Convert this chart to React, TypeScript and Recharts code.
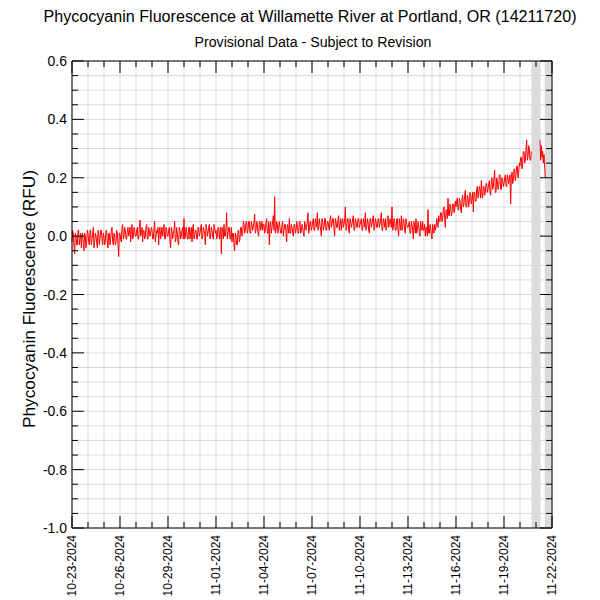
import React from 'react';
import { ComposedChart, Line, Area, XAxis, YAxis, CartesianGrid, ReferenceLine } from 'recharts';

// Phycocyanin fluorescence (RFU), 24 readings per day (hourly)
const d1023 = [-.02, .02, .01, -.04, -.06, .01, 0, -.03, -.03, .02, .02, -.03, -.01, .01, -.04, 0, .01, -.03, -.05, .01, 0, -.04, -.02, .02];
const d1024 = [.01, -.02, -.03, .02, .02, -.03, -.01, .01, .03, -.04, -.02, .01, 0, -.02, -.04, .02, .01, -.03, -.01, .02, .02, -.01, -.03, .01];
const d1025 = [0, -.03, -.02, .02, .02, -.02, -.04, .01, .01, -.03, -.01, .02, .03, -.02, -.03, .01, 0, -.03, -.02, .02, .01, -.03, -.07, .01];
const d1026 = [.01, -.01, -.02, .03, .04, -.01, 0, .03, .02, -.01, -.01, .02, .03, 0, .01, .03, -.02, .02, .04, -.01, 0, .03, .02, 0];
const d1027 = [0, .02, .03, -.01, -.01, .03, .055, 0, .01, .03, -.02, .02, .02, -.01, 0, .03, .04, -.01, -.01, .03, .02, 0, .01, .03];
const d1028 = [.02, -.01, -.01, .03, .05, -.02, 0, .02, .01, .03, -.03, .02, .03, -.01, .01, .03, 0, .02, .04, -.01, -.01, .03, .02, 0];
const d1029 = [0, .02, .03, -.02, -.04, .03, .02, -.01, .01, .02, .05, -.02, -.01, .03, .01, -.02, -.03, .03, .02, -.01, 0, .02, .03, -.01];
const d1030 = [.06, -.01, 0, .03, .02, -.01, -.01, .03, .03, -.01, .01, .03, -.02, .03, .04, -.01, 0, .02, .02, -.01, -.01, .03, .03, 0];
const d1031 = [.01, .03, .04, -.01, 0, .03, .02, .01, -.03, .04, .03, 0, .01, .03, .04, -.01, 0, .03, .02, 0, -.01, .04, .03, .01];
const d1101 = [.02, -.01, 0, .03, .03, -.01, .01, .03, -.06, .03, .02, -.01, .04, 0, 0, .03, .08, -.01, .01, .03, .03, -.01, -.01, .03];
const d1102 = [-.02, .01, .01, -.03, -.05, .01, 0, -.03, -.03, .02, .02, -.02, -.01, .03, .03, 0, .01, .05, .04, .01, .02, .05, .05, .01];
const d1103 = [.02, .05, .05, .01, .01, .05, .04, .02, .03, .05, .075, .01, .02, .05, .04, .01, 0, .05, .05, .02, .03, .05, .02, .04];
const d1104 = [.04, .01, .02, .05, .06, .01, .01, .05, -.03, .04, .05, .01, .03, .05, .07, .02, .135, .01, .02, .05, .04, .01, .03, .05];
const d1105 = [.03, .01, .01, .04, .05, 0, .02, .04, .04, .01, -.02, .04, .03, .01, .06, .01, .01, .04, .03, .01, 0, .04, .04, .01];
const d1106 = [.02, .05, .04, .01, .01, .05, .05, .01, .02, .04, .03, .01, 0, .05, .04, .02, .03, .05, .08, .01, .02, .05, .05, .02];
const d1107 = [.03, .05, .06, .02, .02, .06, .05, .03, .08, .02, .03, .06, .04, .02, 0, .06, .05, .02, .03, .06, .06, .02, .02, .05];
const d1108 = [.05, .03, .02, .06, .07, .03, .04, .06, .06, .02, 0, .06, .05, .03, .03, .06, .07, .02, .04, .06, .02, .05, .06, .03];
const d1109 = [.04, .06, .10, .02, .03, .06, .06, .02, .01, .06, .05, .03, .04, .06, .07, .02, .02, .06, .05, .03, .03, .06, .06, .03];
const d1110 = [.04, .05, .06, .02, .02, .06, .05, .03, .08, .02, .03, .06, .05, .02, .01, .06, .06, .03, .04, .06, .07, .02, .03, .06];
const d1111 = [.05, .03, .03, .06, .06, .03, .04, .06, .08, .02, .02, .06, .05, .03, .06, .02, .03, .06, .07, .03, .04, .06, .05, .03];
const d1112 = [.10, .02, .03, .06, .05, .02, .02, .06, .06, .02, 0, .06, .04, .02, .07, .02, .03, .06, .05, .02, .01, .06, .04, .03];
const d1113 = [.03, .04, .05, .01, .01, .05, .04, .02, -.01, .05, .03, .01, .06, .01, .02, .05, .04, .01, 0, .05, .03, .02, .05, .02];
const d1114 = [.02, .04, 0, .03, .03, 0, .09, .01, .01, .04, .03, 0, -.01, .04, .02, .01, .04, .02, .03, .06, .05, .03, .07, .05];
const d1115 = [.05, .08, .08, .05, .06, .09, .10, .06, .03, .09, .09, .06, .13, .07, .07, .11, .10, .07, .08, .11, .11, .08, .09, .12];
const d1116 = [.10, .12, .13, .09, .09, .13, .12, .09, .08, .13, .14, .10, .11, .14, .157, .10, .10, .14, .13, .10, .12, .15, .14, .11];
const d1117 = [.13, .15, .083, .15, .15, .12, .12, .16, .17, .13, .14, .17, .16, .13, .19, .14, .13, .17, .17, .14, .15, .18, .18, .15];
const d1118 = [.16, .18, .19, .15, .14, .19, .20, .16, .17, .20, .226, .15, .15, .20, .19, .16, .17, .21, .21, .16, .16, .20, .19, .17];
const d1119 = [.18, .20, .21, .17, .17, .21, .20, .18, .19, .21, .11, .20, .22, .18, .19, .23, .23, .19, .21, .24, .24, .20, .22, .25];
const d1120 = [.24, .27, .27, .23, .25, .29, .29, .25, .26, .30, .33, .26, .27, .31, .30, .26, .26, .29, null, null, null, null, null, null];
const d1121 = [null, null, null, null, null, null, .33, .26, .31, .27, .29, .25, .28, .24, .20, null, null, null, null, null, null, null, null, null, null];

const dailyValues: (number | null)[][] = [
  d1023, d1024, d1025, d1026, d1027, d1028, d1029, d1030, d1031, d1101,
  d1102, d1103, d1104, d1105, d1106, d1107, d1108, d1109, d1110, d1111,
  d1112, d1113, d1114, d1115, d1116, d1117, d1118, d1119, d1120, d1121,
];
const READINGS_PER_DAY = 24;

const dateTickLabels = [
  '10-23-2024', '10-26-2024', '10-29-2024', '11-01-2024', '11-04-2024', '11-07-2024',
  '11-10-2024', '11-13-2024', '11-16-2024', '11-19-2024', '11-22-2024',
];
const xMajorTicks = [0, 3, 6, 9, 12, 15, 18, 21, 24, 27, 30];
const xMinorTicks = [0, 1, 2, 3, 4, 5, 6, 7, 8, 9, 10, 11, 12, 13, 14, 15, 16, 17, 18, 19, 20, 21, 22, 23, 24, 25, 26, 27, 28, 29, 30];
// periods without data (shaded), in days since 10-23
const gapStart = [28.75, 29.58];
const gapEnd = [29.25, 30];
// grid-only vertical lines / band edges (no tick marks)
const xGridOnly = [22.5, ...gapStart, ...gapEnd.filter((v) => v < 30)];
const xBottomTicks = [...xMinorTicks, ...xGridOnly].sort((a, b) => a - b);
const yMajorTicks = [-1, -0.8, -0.6, -0.4, -0.2, 0, 0.2, 0.4, 0.6];
const yTickLabels = ['-1.0', '-0.8', '-0.6', '-0.4', '-0.2', '0.0', '0.2', '0.4', '0.6'];
const yMinorTicks = [
  -1, -0.95, -0.9, -0.85, -0.8, -0.75, -0.7, -0.65, -0.6, -0.55, -0.5, -0.45, -0.4, -0.35, -0.3, -0.25, -0.2,
  -0.15, -0.1, -0.05, 0, 0.05, 0.1, 0.15, 0.2, 0.25, 0.3, 0.35, 0.4, 0.45, 0.5, 0.55, 0.6,
];
const X_MIN = 0;
const X_MAX = 30;
const Y_MIN = -1;
const Y_MAX = 0.6;
const BAND_FILL = '#dcdcdc';

const inGap = (t: number) => gapStart.some((a, i) => t >= a - 1e-9 && t <= gapEnd[i] + 1e-9);

// stripe colours between consecutive vertical grid lines (grey inside no-data periods)
const stripeFills = xBottomTicks.map((t, i) => {
  const next = xBottomTicks[i + 1];
  if (next === undefined) return 'none';
  return inGap((t + next) / 2) ? BAND_FILL : 'none';
});

const data: { t: number; rfu: number | null; gap: number[] | null }[] = [];
dailyValues.forEach((vals, day) =>
  vals.forEach((v, i) => {
    const t = day + i / READINGS_PER_DAY;
    data.push({ t, rfu: v, gap: inGap(t) ? [Y_MIN, Y_MAX] : null });
  })
);

const FONT = '"Liberation Sans", Arial, Helvetica, sans-serif';
const W = 600;
const H = 600;
const PLOT = { left: 72, right: 552, top: 61, bottom: 528 };
const AX = { bottom: 30, left: 60, top: 10 };
const MARGIN = {
  top: PLOT.top - AX.top,
  right: W - PLOT.right,
  bottom: H - PLOT.bottom - AX.bottom,
  left: PLOT.left - AX.left,
};
const MAJOR_LEN = 12;
const MINOR_LEN = 6;

const isIn = (arr: number[], v: number) => arr.some((m) => Math.abs(m - v) < 1e-6);

const BottomTick = (props: any) => {
  const { x, payload } = props;
  const v = payload.value;
  if (!isIn(xMinorTicks, v)) return <g />;
  const major = isIn(xMajorTicks, v);
  const idx = xMajorTicks.findIndex((m) => Math.abs(m - v) < 1e-6);
  const ly = PLOT.bottom + 7;
  return (
    <g>
      <line x1={x} x2={x} y1={PLOT.bottom} y2={PLOT.bottom - (major ? MAJOR_LEN : MINOR_LEN)} stroke="#000" />
      {major && (
        <text
          x={x}
          y={ly}
          transform={`rotate(-90, ${x}, ${ly})`}
          textAnchor="end"
          dy="0.36em"
          fontSize={12}
          fontFamily={FONT}
          fill="#000"
        >
          {dateTickLabels[idx]}
        </text>
      )}
    </g>
  );
};

const TopTick = (props: any) => {
  const { x, payload } = props;
  const v = payload.value;
  const major = isIn(xMajorTicks, v);
  return <line x1={x} x2={x} y1={PLOT.top} y2={PLOT.top + (major ? MAJOR_LEN : MINOR_LEN)} stroke="#000" />;
};

// left-axis tick: draws the left tick, its mirrored right-side tick and the label
const LeftTick = (props: any) => {
  const { y, payload } = props;
  const v = payload.value;
  const idx = yMajorTicks.findIndex((m) => Math.abs(m - v) < 1e-6);
  const major = idx >= 0;
  const len = major ? MAJOR_LEN : MINOR_LEN;
  return (
    <g>
      <line x1={PLOT.left} x2={PLOT.left + len} y1={y} y2={y} stroke="#000" />
      <line x1={PLOT.right} x2={PLOT.right - len} y1={y} y2={y} stroke="#000" />
      {major && (
        <text x={PLOT.left - 5} y={y} textAnchor="end" dy="0.36em" fontSize={14} fontFamily={FONT} fill="#000">
          {yTickLabels[idx]}
        </text>
      )}
    </g>
  );
};

export default function App() {
  return (
    <div style={{ position: 'absolute', left: 0, top: 0, width: W, height: H, background: '#fff' }}>
      <div style={{ position: 'absolute', left: 0, top: 0 }}>
        <ComposedChart width={W} height={H} data={data} margin={MARGIN}>
          <CartesianGrid
            xAxisId="xB"
            yAxisId="yL"
            stroke="#d9d9d9"
            strokeWidth={1}
            verticalFill={stripeFills}
            fillOpacity={1}
          />
          <Area
            xAxisId="xB"
            yAxisId="yL"
            type="linear"
            dataKey="gap"
            fill={BAND_FILL}
            fillOpacity={1}
            stroke="none"
            dot={false}
            activeDot={false}
            connectNulls={false}
            isAnimationActive={false}
          />
          <Line
            xAxisId="xB"
            yAxisId="yL"
            type="linear"
            dataKey="rfu"
            stroke="#ff0000"
            strokeWidth={1}
            dot={false}
            activeDot={false}
            connectNulls={false}
            isAnimationActive={false}
          />
          <ReferenceLine xAxisId="xB" yAxisId="yL" x={X_MAX} stroke="#000" strokeWidth={1} ifOverflow="visible" />
          <XAxis
            xAxisId="xB"
            orientation="bottom"
            type="number"
            dataKey="t"
            domain={[X_MIN, X_MAX]}
            ticks={xBottomTicks}
            interval={0}
            height={AX.bottom}
            tickLine={false}
            axisLine={{ stroke: '#000' }}
            tick={BottomTick}
          />
          <XAxis
            xAxisId="xT"
            orientation="top"
            type="number"
            dataKey="t"
            domain={[X_MIN, X_MAX]}
            ticks={xMinorTicks}
            interval={0}
            height={AX.top}
            tickLine={false}
            axisLine={{ stroke: '#000' }}
            tick={TopTick}
          />
          <YAxis
            yAxisId="yL"
            orientation="left"
            type="number"
            domain={[Y_MIN, Y_MAX]}
            ticks={yMinorTicks}
            interval={0}
            width={AX.left}
            tickLine={false}
            axisLine={{ stroke: '#000' }}
            tick={LeftTick}
          />
        </ComposedChart>
      </div>
      <svg width={W} height={H} style={{ position: 'absolute', left: 0, top: 0, pointerEvents: 'none' }}>
        <text x={310} y={22} textAnchor="middle" fontSize={16} fontFamily={FONT} fill="#000" textLength={533} lengthAdjust="spacingAndGlyphs">
          Phycocyanin Fluorescence at Willamette River at Portland, OR (14211720)
        </text>
        <text x={313} y={47} textAnchor="middle" fontSize={14} fontFamily={FONT} fill="#000" textLength={237} lengthAdjust="spacingAndGlyphs">
          Provisional Data - Subject to Revision
        </text>
        <text
          x={35}
          y={299}
          transform="rotate(-90, 35, 299)"
          textAnchor="middle"
          fontSize={17}
          fontFamily={FONT}
          fill="#000"
          textLength={258}
          lengthAdjust="spacingAndGlyphs"
        >
          Phycocyanin Fluorescence (RFU)
        </text>
      </svg>
    </div>
  );
}
